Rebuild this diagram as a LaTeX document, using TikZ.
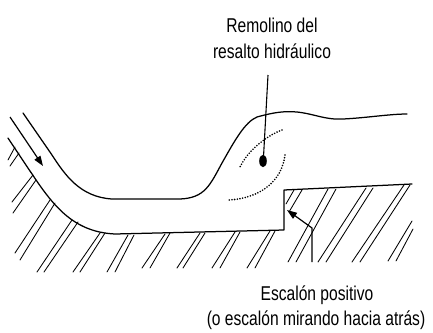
\documentclass[tikz,border=0pt]{standalone}
\usepackage{fontspec}
\newfontfamily\labfont[FakeStretch=0.78]{Liberation Sans}
\usetikzlibrary{arrows.meta}

\tikzset{
  edge/.style={line width=1.25pt, line join=round, line cap=round},
  hatchline/.style={line width=0.85pt, line cap=round},
  eddy/.style={line width=1.8pt, line cap=round, dash pattern=on 0pt off 2.7pt},
  pointer/.style={line width=1.2pt, -{Triangle[length=10pt,width=7pt]}},
  lbl/.style={font=\labfont\fontsize{20}{24}\selectfont, inner sep=0pt, anchor=base}
}

\begin{document}
\begin{tikzpicture}[x=1pt, y=-1pt]
\useasboundingbox (0,0) rectangle (433,332);

% free surface of the flow: chute, toe, jump and tailwater
\draw[edge] (23,113) -- (52,155)
  .. controls (65,175) and (80,197) .. (112,199) -- (180,199)
  .. controls (205,198) and (210,185) .. (222,163)
  .. controls (235,140) and (245,122) .. (257,117)
  .. controls (275,112) and (285,111) .. (297,112)
  .. controls (315,114) and (325,120) .. (343,119)
  .. controls (365,118) and (390,114) .. (407,114);

% channel bed with the positive step
\draw[edge] (8,138) -- (30,171)
  .. controls (52,204) and (72,232) .. (115,234)
  -- (284,230) -- (284,190) -- (412,184);

% hatching of the solid boundary
\foreach \ax/\ay/\bx/\by in {
   15/147/8/160, 19/153/10/166,
   33/175/12/202, 36/180/13/213,
   50/200/15/253, 55/203/20/260,
   72/220/37/272, 78/222/44/272,
   100/233/73/272, 105/233/80/272,
   128/235/107/272, 134/235/115/272,
   165/234/142/268, 170/233/150/268,
   200/233/177/268, 205/233/183/268,
   235/232/212/268, 240/232/220/268,
   270/231/247/268, 275/231/255/268,
   294/190/286/204, 302/190/289/212,
   328/189/288/262, 336/189/296/262,
   366/188/318/262, 373/188/326/262,
   404/185/352/262, 410/185/360/262,
   412/221/388/261, 413/229/396/261}
  \draw[hatchline] (\ax,\ay) -- (\bx,\by);

% roller of the jump
\draw[eddy] (282,130) .. controls (268,135) and (248,150) .. (240,167);
\draw[eddy] (285,155) .. controls (282,180) and (262,198) .. (229,200);
\fill (263,161) ellipse [x radius=3.8pt, y radius=6.2pt];

% labels
\node[lbl] (rem1) at (272,32) {Remolino del};
\node[lbl] (rem2) at (272,58) {resalto hidráulico};
\node[lbl] (esc1) at (317,300) {Escalón positivo};
\node[lbl] (esc2) at (316,325) {(o escalón mirando hacia atrás)};

% leader to the roller
\coordinate (remtop) at (268,75);
\coordinate (remdot) at (263.5,157);
\draw[line width=1.1pt] (remtop) -- (remdot);

% flow direction arrow
\coordinate (flowa) at (10,117);
\coordinate (flowb) at (43,166);
\draw[pointer] (flowa) -- (flowb);

% leader to the step face
\coordinate (stepa) at (312,262);
\coordinate (stepb) at (312,228);
\coordinate (stepc) at (287,210);
\draw[pointer] (stepa) -- (stepb) -- (stepc);
\end{tikzpicture}
\end{document}
